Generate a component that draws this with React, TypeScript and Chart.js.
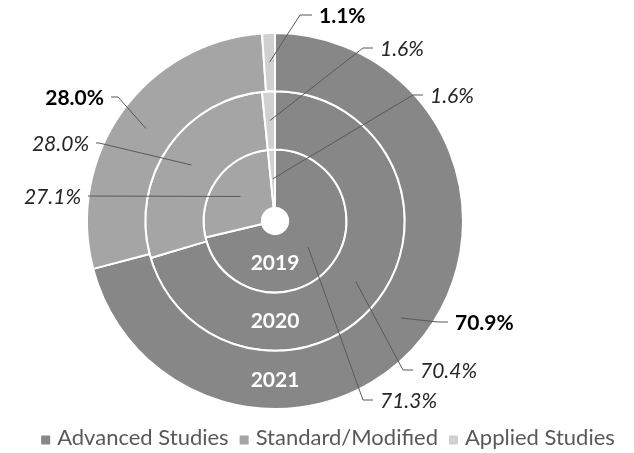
import React, { useEffect, useRef } from "react";
import { Chart, registerables } from "chart.js";

Chart.register(...registerables);

const categories = ["Advanced Studies", "Standard/Modified", "Applied Studies"];
const years = ["2021", "2020", "2019"];
const values2021 = [70.9, 28.0, 1.1];
const values2020 = [70.4, 28.0, 1.6];
const values2019 = [71.3, 27.1, 1.6];
const colors = ["#878787", "#a5a5a5", "#d0d0d0"];

// leader-line layout (offsets from the doughnut centre), per ring, per category
const labelLayout = [
  [
    { dx: 163, dy: 101, side: 1, seg: 10 },
    { dx: -157, dy: -124, side: -1, seg: 7 },
    { dx: 25, dy: -206, side: 1, seg: 12 },
  ],
  [
    { dx: 128, dy: 149, side: 1, seg: 10 },
    { dx: -176, dy: -78, side: -1, seg: 3 },
    { dx: 88, dy: -173, side: 1, seg: 10 },
  ],
  [
    { dx: 88, dy: 179, side: 1, seg: 10 },
    { dx: -187, dy: -25, side: -1, seg: 0 },
    { dx: 138, dy: -126, side: 1, seg: 10 },
  ],
];

const FONT = "Lato, 'Open Sans', sans-serif";

const ringLabels = {
  id: "ringLabels",
  afterDatasetsDraw(chart: any) {
    const ctx = chart.ctx;
    ctx.save();
    chart.data.datasets.forEach((ds: any, di: number) => {
      const meta = chart.getDatasetMeta(di);
      meta.data.forEach((arc: any, i: number) => {
        const p = arc.tooltipPosition();
        const L = labelLayout[di][i];
        const ex = arc.x + L.dx;
        const ey = arc.y + L.dy;
        const endX = ex + L.side * L.seg;
        ctx.strokeStyle = "#595959";
        ctx.lineWidth = 1;
        ctx.beginPath();
        ctx.moveTo(p.x, p.y);
        ctx.lineTo(ex, ey);
        ctx.lineTo(endX, ey);
        ctx.stroke();
        const bold = di === 0;
        ctx.font = bold ? `bold 21px ${FONT}` : `italic 21px ${FONT}`;
        ctx.fillStyle = bold ? "#000000" : "#262626";
        ctx.textBaseline = "middle";
        ctx.textAlign = L.side > 0 ? "left" : "right";
        ctx.fillText(`${ds.data[i].toFixed(1)}%`, endX + L.side * 7, ey + 1);
      });
      const a0 = meta.data[0];
      const r = (a0.innerRadius + a0.outerRadius) / 2;
      ctx.font = `bold 21px ${FONT}`;
      ctx.fillStyle = "#ffffff";
      ctx.textAlign = "center";
      ctx.textBaseline = "middle";
      ctx.fillText(years[di], a0.x, a0.y + r);
    });

    // legend
    ctx.font = `22px ${FONT}`;
    ctx.textAlign = "left";
    ctx.textBaseline = "middle";
    const sq = 9, gapIn = 7, gapOut = 11;
    const widths = categories.map((c) => ctx.measureText(c).width);
    const total =
      widths.reduce((s, w) => s + w, 0) + categories.length * (sq + gapIn) + (categories.length - 1) * gapOut;
    let x = 328 - total / 2;
    const y = 438;
    categories.forEach((c, i) => {
      ctx.fillStyle = colors[i];
      ctx.fillRect(x, y - sq / 2 + 2, sq, sq);
      x += sq + gapIn;
      ctx.fillStyle = "#595959";
      ctx.fillText(c, x, y);
      x += widths[i] + gapOut;
    });
    ctx.restore();
  },
};

export default function App() {
  const ref = useRef<HTMLCanvasElement | null>(null);
  useEffect(() => {
    if (!ref.current) return;
    const chart = new Chart(ref.current, {
      type: "doughnut",
      data: {
        labels: categories,
        datasets: [values2021, values2020, values2019].map((v, i) => ({
          label: years[i],
          data: v,
          backgroundColor: colors,
          borderColor: "#ffffff",
          borderWidth: 2,
        })),
      },
      options: {
        animation: false,
        responsive: true,
        maintainAspectRatio: false,
        cutout: "7%",
        layout: { padding: { left: 86, right: 170, top: 32, bottom: 43 } },
        plugins: {
          legend: { display: false },
          tooltip: { enabled: false },
        },
      },
      plugins: [ringLabels],
    });
    return () => chart.destroy();
  }, []);
  return (
    <div style={{ position: "absolute", left: 0, top: 0, width: 634, height: 453, background: "#fff" }}>
      <canvas ref={ref} />
    </div>
  );
}
